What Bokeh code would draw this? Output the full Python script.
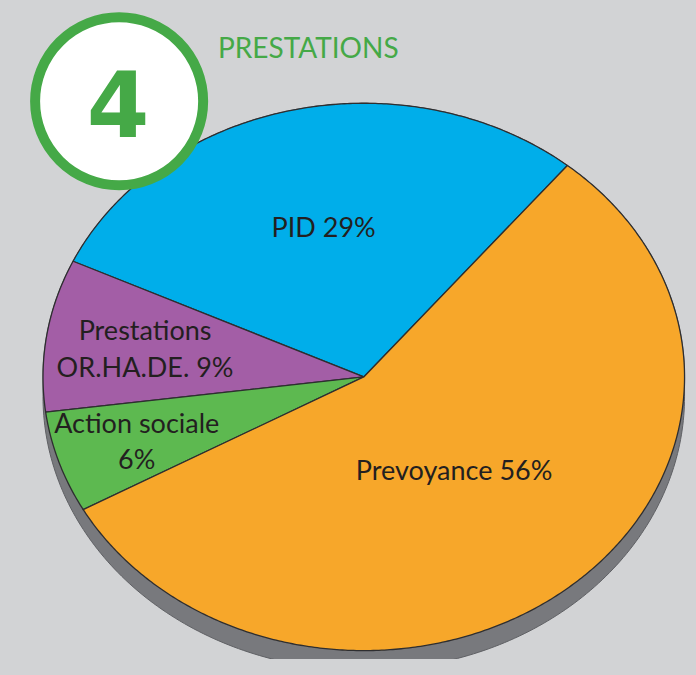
import numpy as np
from bokeh.plotting import figure
from bokeh.models import Range1d
from bokeh.core.properties import value
from bokeh.embed import file_html
from bokeh.resources import INLINE

# ---- data ----
categories = ["PID", "Prestations OR.HA.DE.", "Action sociale", "Prevoyance"]
shares = [29, 9, 6, 56]
label_texts = ["PID 29%", "Prestations\nOR.HA.DE. 9%", "Action sociale\n6%", "Prevoyance 56%"]
slice_colors = ["#00aeea", "#a35ea6", "#5db950", "#f7a72a"]
title_text = "PRESTATIONS"
badge_text = "4"

# ---- layout (reference pixel coordinates) ----
BG = "#d2d3d5"
GREEN = "#45a947"
CX, CY, RX, RY = 367.5, 381.0, 324.5, 277.0
DEPTH = 20
START = 50.6          # parametric start angle (deg), counter-clockwise
label_r = [0.565, 0.69, 0.745, 0.44]

W, H = 688, 659

p = figure(width=W, height=H, output_backend="svg", toolbar_location=None,
           x_range=Range1d(0, 696), y_range=Range1d(667, 0),
           min_border=0, outline_line_color=None,
           background_fill_color=BG, border_fill_color=BG)
p.axis.visible = False
p.grid.visible = False


def ell(t_deg, dy=0.0):
    t = np.radians(t_deg)
    return CX + RX * np.cos(t), CY - RY * np.sin(t) + dy


# shadow / extrusion
tu = np.linspace(0, 180, 181)
tl = np.linspace(180, 360, 181)
xu, yu = ell(tu)
xl, yl = ell(tl, DEPTH)
p.patch(np.concatenate([xu, xl]), np.concatenate([yu, yl]),
        fill_color="#78797d", line_color="#5f6064", line_width=1)

# slices
total = float(sum(shares))
a0 = START
mids = []
for v, col in zip(shares, slice_colors):
    a1 = a0 + 360.0 * v / total
    ts = np.linspace(a0, a1, max(8, int(abs(a1 - a0) * 2)))
    ex, ey = ell(ts)
    xs = np.concatenate([[CX], ex, [CX]])
    ys = np.concatenate([[CY], ey, [CY]])
    p.patch(xs, ys, fill_color=col, line_color="#2e2e30", line_width=1.3,
            line_join="round")
    mids.append((a0 + a1) / 2.0)
    a0 = a1

# labels
lx, ly = [], []
for m, r in zip(mids, label_r):
    t = np.radians(m)
    lx.append(CX + r * RX * np.cos(t))
    ly.append(CY - r * RY * np.sin(t))
p.text(x=lx, y=ly, text=label_texts, text_font=value("Lato"),
       text_font_size="27px", text_color="#231f20", text_align="center",
       text_baseline="middle", text_line_height=1.1)

# badge
p.circle(x=[120], y=[102], radius=85, fill_color="white",
         line_color=GREEN, line_width=10)
p.text(x=[119], y=[104], text=[badge_text], text_font=value("DejaVu Sans"),
       text_font_style="bold", text_font_size="90px", text_color=GREEN,
       text_align="center", text_baseline="middle")

# title
p.text(x=[220], y=[47], text=[title_text], text_font=value("Lato"),
       text_font_size="28px", text_color=GREEN, text_align="left",
       text_baseline="middle")

html = file_html(p, INLINE)
html = html.replace("<head>", "<head><style>html,body{background:%s;}</style>" % BG, 1)
open("out.html", "w").write(html)
